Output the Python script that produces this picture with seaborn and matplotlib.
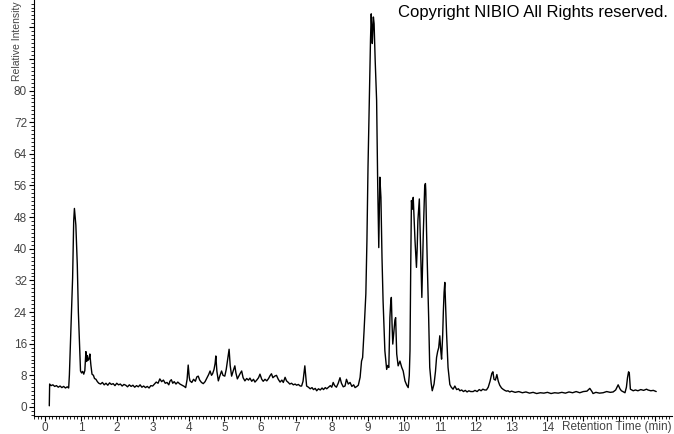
import pandas as pd
import matplotlib.pyplot as plt
import seaborn as sns
from matplotlib.ticker import MultipleLocator

# Chromatogram trace (retention time in min, relative intensity)
rt = [
    0.12, 0.13, 0.17, 0.22, 0.27, 0.32, 0.37, 0.42, 0.47, 0.52, 0.57, 0.62, 0.66,
    0.68, 0.72, 0.74, 0.77, 0.80, 0.82, 0.84, 0.86, 0.90, 0.93, 0.96, 0.98, 0.99,
    1.02, 1.05, 1.08, 1.11, 1.14, 1.16, 1.18, 1.20, 1.23, 1.25, 1.28, 1.31, 1.35,
    1.38, 1.42, 1.46, 1.50, 1.55, 1.60, 1.65, 1.70, 1.75, 1.80, 1.85, 1.90, 1.95,
    2.00, 2.05, 2.10, 2.15, 2.20, 2.25, 2.30, 2.35, 2.40, 2.45, 2.50, 2.55, 2.60,
    2.65, 2.70, 2.75, 2.80, 2.85, 2.90, 2.95, 3.00, 3.05, 3.10, 3.15, 3.20, 3.25,
    3.30, 3.35, 3.40, 3.45, 3.48, 3.52, 3.56, 3.60, 3.65, 3.70, 3.76, 3.82, 3.88,
    3.92, 3.96, 3.99, 4.02, 4.04, 4.09, 4.14, 4.19, 4.23, 4.27, 4.31, 4.36, 4.41,
    4.46, 4.51, 4.56, 4.60, 4.64, 4.67, 4.71, 4.74, 4.76, 4.79, 4.83, 4.87, 4.92,
    4.96, 5.01, 5.05, 5.09, 5.13, 5.16, 5.20, 5.24, 5.29, 5.32, 5.36, 5.40, 5.44,
    5.48, 5.52, 5.57, 5.62, 5.67, 5.71, 5.76, 5.81, 5.85, 5.90, 5.95, 5.99, 6.04,
    6.08, 6.13, 6.18, 6.23, 6.27, 6.31, 6.35, 6.40, 6.45, 6.50, 6.55, 6.60, 6.64,
    6.69, 6.73, 6.78, 6.82, 6.87, 6.92, 6.97, 7.01, 7.06, 7.11, 7.15, 7.19, 7.22,
    7.24, 7.27, 7.29, 7.34, 7.39, 7.44, 7.48, 7.53, 7.57, 7.62, 7.67, 7.72, 7.76,
    7.81, 7.85, 7.90, 7.95, 7.99, 8.03, 8.07, 8.12, 8.17, 8.22, 8.26, 8.31, 8.36,
    8.40, 8.45, 8.50, 8.55, 8.60, 8.64, 8.69, 8.73, 8.78, 8.82, 8.85, 8.89, 8.94,
    8.97, 9.00, 9.03, 9.05, 9.07, 9.09, 9.11, 9.12, 9.14, 9.15, 9.17, 9.20, 9.24,
    9.27, 9.30, 9.32, 9.33, 9.36, 9.39, 9.42, 9.47, 9.52, 9.55, 9.58, 9.61, 9.63,
    9.65, 9.67, 9.69, 9.71, 9.73, 9.75, 9.77, 9.80, 9.84, 9.89, 9.94, 9.98, 10.03,
    10.08, 10.12, 10.15, 10.17, 10.19, 10.21, 10.24, 10.26, 10.29, 10.31, 10.35,
    10.37, 10.39, 10.41, 10.43, 10.46, 10.48, 10.50, 10.52, 10.54, 10.56, 10.58,
    10.60, 10.61, 10.63, 10.65, 10.69, 10.72, 10.76, 10.79, 10.84, 10.88, 10.91,
    10.94, 10.97, 11.00, 11.03, 11.05, 11.08, 11.10, 11.12, 11.14, 11.16, 11.19,
    11.23, 11.28, 11.32, 11.37, 11.42, 11.47, 11.52, 11.56, 11.61, 11.66, 11.71,
    11.76, 11.81, 11.86, 11.93, 11.98, 12.04, 12.10, 12.15, 12.20, 12.25, 12.30,
    12.35, 12.40, 12.45, 12.48, 12.51, 12.55, 12.59, 12.63, 12.67, 12.72, 12.76,
    12.81, 12.86, 12.90, 12.95, 13.00, 13.10, 13.20, 13.30, 13.40, 13.50, 13.60,
    13.70, 13.80, 13.90, 14.00, 14.10, 14.20, 14.30, 14.40, 14.50, 14.60, 14.70,
    14.80, 14.90, 15.00, 15.10, 15.18, 15.24, 15.27, 15.35, 15.45, 15.55, 15.65,
    15.75, 15.83, 15.90, 15.97, 16.02, 16.06, 16.12, 16.16, 16.20, 16.23, 16.26,
    16.28, 16.31, 16.35, 16.39, 16.45, 16.52, 16.60, 16.68, 16.76, 16.80, 16.88,
    16.95, 17.03,
]
intensity = [
    0.3, 5.8, 5.4, 5.6, 5.2, 5.4, 5.0, 5.3, 4.9, 5.2, 4.8, 5.1, 4.8,
    8.1, 19.0, 24.0, 32.7, 47.0, 50.2, 48.0, 46.0, 36.0, 24.0, 16.7, 11.6, 9.1,
    8.6, 9.0, 8.3, 9.2, 14.0, 11.5, 13.0, 11.8, 12.2, 13.4, 10.5, 8.3, 8.0,
    7.2, 7.0, 6.4, 6.0, 5.8, 6.2, 5.6, 6.0, 5.5, 6.1, 5.7, 5.9, 5.4,
    6.0, 5.6, 5.8, 5.3, 5.7, 5.5, 5.1, 5.6, 5.2, 5.5, 5.0, 5.4, 5.1,
    5.6, 5.0, 5.3, 4.9, 5.2, 4.8, 5.4, 5.3, 5.8, 6.3, 6.0, 7.1, 6.4,
    6.8, 6.0, 6.2, 5.6, 6.5, 6.9, 6.0, 6.4, 5.8, 6.3, 5.8, 5.5, 5.2,
    4.9, 7.0, 10.6, 7.5, 6.6, 6.2, 7.0, 6.5, 7.6, 7.8, 6.8, 6.2, 5.9,
    6.4, 7.3, 8.2, 9.1, 8.0, 8.4, 9.5, 11.0, 12.9, 9.0, 6.6, 7.8, 9.1,
    8.0, 7.8, 9.5, 12.0, 14.6, 10.5, 7.8, 9.0, 10.4, 8.6, 7.1, 7.8, 8.5,
    9.1, 7.4, 6.6, 7.2, 6.8, 7.3, 6.5, 7.0, 6.3, 6.8, 7.4, 8.3, 7.0,
    6.5, 7.0, 6.6, 7.2, 7.9, 8.4, 7.4, 7.8, 8.0, 7.0, 6.3, 6.8, 6.2,
    7.5, 6.6, 6.2, 5.8, 6.0, 5.6, 5.8, 5.5, 5.7, 5.3, 5.3, 6.5, 8.8,
    10.4, 7.5, 5.3, 5.0, 4.6, 4.9, 4.4, 4.7, 4.1, 4.6, 4.3, 4.8, 4.4,
    4.9, 4.6, 5.0, 5.4, 5.0, 6.2, 5.4, 5.0, 6.0, 7.4, 6.0, 5.1, 5.3,
    7.0, 5.8, 6.2, 5.2, 5.6, 4.9, 5.2, 5.5, 7.5, 11.6, 12.5, 19.2, 28.6,
    42.0, 60.6, 75.0, 85.9, 93.0, 99.4, 95.0, 91.9, 96.0, 98.6, 96.9, 87.6, 77.5,
    56.4, 40.3, 52.0, 58.1, 53.0, 37.8, 26.8, 14.2, 9.5, 10.5, 10.0, 22.6, 26.0,
    27.7, 21.0, 15.9, 18.0, 20.1, 22.0, 22.6, 13.4, 10.4, 11.6, 10.0, 9.1, 6.6,
    5.5, 4.9, 8.0, 14.2, 35.0, 52.2, 50.0, 53.0, 46.0, 42.0, 35.3,
    40.0, 47.1, 50.0, 52.6, 42.0, 35.0, 27.7, 36.0, 43.7, 50.0, 55.9,
    56.5, 54.7, 45.0, 37.0, 22.6, 10.0, 6.0, 4.1, 5.8, 9.0, 12.5,
    14.0, 15.0, 18.0, 14.0, 12.1, 18.0, 24.3, 29.0, 31.5, 26.0, 18.4,
    10.0, 5.7, 5.0, 4.5, 5.3, 4.4, 4.6, 4.1, 4.3, 3.9, 4.2,
    3.8, 4.1, 3.9, 3.9, 4.2, 3.9, 4.4, 4.1, 4.5, 4.3, 4.3,
    5.0, 6.5, 8.5, 8.9, 7.0, 6.8, 8.2, 6.5, 5.5, 4.8, 4.5,
    4.2, 4.0, 4.1, 3.8, 4.0, 3.7, 3.9, 3.6, 3.8, 3.5, 3.7,
    3.4, 3.6, 3.5, 3.7, 3.4, 3.6, 3.5, 3.7, 3.5, 3.8, 3.6,
    3.9, 3.6, 3.9, 4.0, 4.7, 3.9, 3.4, 3.7, 3.5, 3.6, 3.9,
    3.7, 3.8, 4.3, 5.6, 4.6, 4.1, 3.8, 3.6, 5.0, 7.4, 8.9,
    8.6, 4.5, 4.3, 4.1, 4.3, 4.1, 4.4, 4.2, 4.5, 4.3, 4.1,
    4.2, 3.9,
]

x_ticks = list(range(18))
x_tick_labels = [str(i) for i in range(15)] + ["", "", ""]
y_ticks = list(range(0, 97, 8))
y_tick_labels = [str(v) for v in range(0, 81, 8)] + ["", ""]

df = pd.DataFrame({"rt": rt, "intensity": intensity})

sns.set_style("ticks")
plt.rcParams['font.family'] = ['Liberation Sans', 'DejaVu Sans']

fig = plt.figure(figsize=(6.74, 4.34), dpi=100)
# axes box: left spine at x=34 px, bottom spine at y=416 px from the top
ax = fig.add_axes([34 / 674, 18 / 434, 638 / 674, 416 / 434])

sns.lineplot(data=df, x="rt", y="intensity", ax=ax, color="black",
             linewidth=1.0, estimator=None, sort=False)

ax.set_xlim(-0.306, 17.47)
ax.set_ylim(-2.28, 102.9)
ax.set_xlabel("")
ax.set_ylabel("")
ax.spines['top'].set_visible(False)
ax.spines['right'].set_visible(False)
for s in ['left', 'bottom']:
    ax.spines[s].set_color("black")
    ax.spines[s].set_linewidth(0.8)

ax.set_xticks(x_ticks)
ax.set_xticklabels(x_tick_labels)
ax.set_yticks(y_ticks)
ax.set_yticklabels(y_tick_labels)
ax.xaxis.set_minor_locator(MultipleLocator(0.1))
ax.yaxis.set_minor_locator(MultipleLocator(1))
ax.tick_params(which='major', length=3.5, width=0.8, color='black',
               labelsize=8.5, labelcolor='#444444', pad=1.5)
ax.tick_params(axis='x', which='major', pad=0.5)
ax.tick_params(which='minor', length=2.5, width=0.6, color='black')

fig.text(672 / 674, 7 / 434, "Retention Time (min)", ha='right', va='center',
         fontsize=8.5, color='#444444')
fig.text(17 / 674, 1 - 1 / 434, "Relative Intensity", rotation=90,
         ha='center', va='top', fontsize=7.5, color='#444444')
fig.text(668 / 674, 1 - 13 / 434, "Copyright NIBIO All Rights reserved.",
         ha='right', va='center', fontsize=12, color='black')

plt.savefig("out.png", dpi=100)
plt.close()
